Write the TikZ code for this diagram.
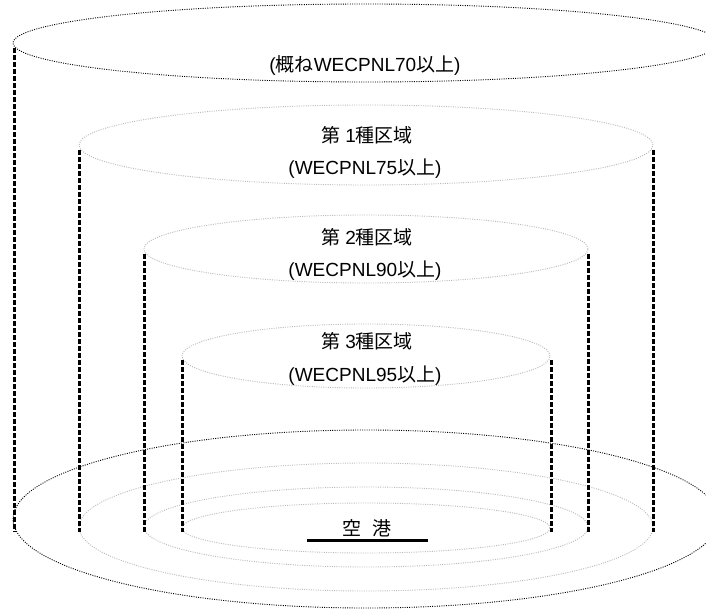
\documentclass[tikz,border=0pt]{standalone}
\usepackage{fontspec}
\setmainfont{Liberation Sans}
\newfontfamily\jpfont{Noto Sans CJK JP}
\newcommand{\jp}[1]{{\jpfont #1}}
\begin{document}
\begin{tikzpicture}[x=1pt,y=-1pt,
	rim/.style={line width=0.9pt,dash pattern=on 1pt off 1.3pt},
	wall/.style={line width=3pt,dash pattern=on 5pt off 2pt},
	txt/.style={inner sep=0pt,font=\fontsize{19}{21}\selectfont}]
	\useasboundingbox (0,0) rectangle (706,609);
	\draw [rim,black] (366,43) ellipse (353pt and 39pt);
	\draw [rim,gray!55] (366,145) ellipse (287pt and 40pt);
	\draw [rim,gray!55] (366,249) ellipse (222pt and 34pt);
	\draw [rim,gray!55] (366,356) ellipse (184pt and 32pt);
	\draw [rim,black] (366,519) ellipse (353pt and 89pt);
	\draw [rim,gray!55] (366,527) ellipse (287pt and 64pt);
	\draw [rim,gray!55] (366,527) ellipse (222pt and 40pt);
	\draw [rim,gray!55] (366,528) ellipse (184pt and 25pt);
	\coordinate (a0) at (14,48);
	\coordinate (b0) at (14,532);
	\coordinate (a1) at (79,150);
	\coordinate (b1) at (79,532);
	\coordinate (a2) at (144,254);
	\coordinate (b2) at (144,532);
	\coordinate (a3) at (182,360);
	\coordinate (b3) at (182,532);
	\coordinate (c1) at (653,150);
	\coordinate (d1) at (653,532);
	\coordinate (c2) at (588,254);
	\coordinate (d2) at (588,532);
	\coordinate (c3) at (551,360);
	\coordinate (d3) at (551,532);
	\draw [wall] (a0) -- (b0);
	\draw [wall] (a1) -- (b1);
	\draw [wall] (a2) -- (b2);
	\draw [wall] (a3) -- (b3);
	\draw [wall] (c1) -- (d1);
	\draw [wall] (c2) -- (d2);
	\draw [wall] (c3) -- (d3);
	\node [txt] (t0) at (365,65) {(\jp{概ね}WECPNL70\jp{以上})};
	\node [txt] (t1) at (367,135) {\jp{第} 1\jp{種区域}};
	\node [txt] (w1) at (365,169) {(WECPNL75\jp{以上})};
	\node [txt] (t2) at (367,237) {\jp{第} 2\jp{種区域}};
	\node [txt] (w2) at (365,271) {(WECPNL90\jp{以上})};
	\node [txt] (t3) at (367,341) {\jp{第} 3\jp{種区域}};
	\node [txt] (w3) at (365,376) {(WECPNL95\jp{以上})};
	\node [txt] (ap) at (367,528) {\jp{空\hspace{0.6em}港}};
	\coordinate (u1) at (307,540.5);
	\coordinate (u2) at (428,540.5);
	\draw [line width=2.7pt] (u1) -- (u2);
\end{tikzpicture}
\end{document}
